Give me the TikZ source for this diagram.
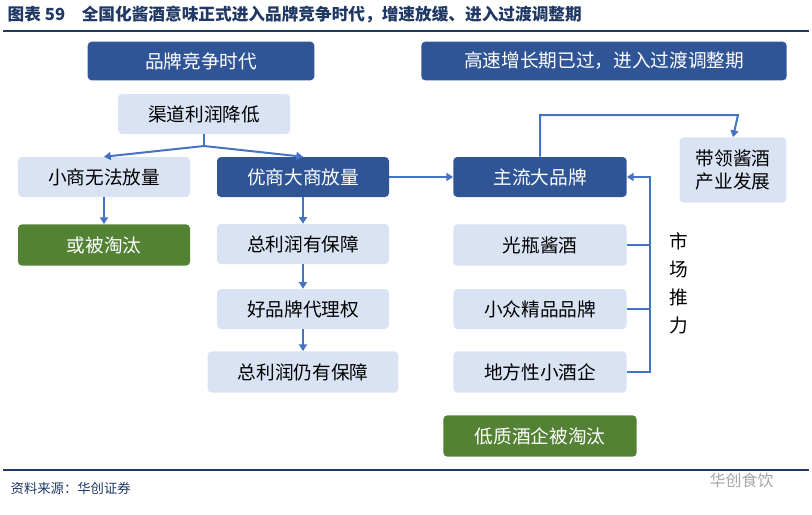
\documentclass[tikz,border=0pt]{standalone}
\usepackage{fontspec}
\setmainfont{Liberation Serif}
\newfontfamily\cjk{Noto Sans CJK SC}
\usetikzlibrary{positioning,arrows.meta}
\definecolor{dkblue}{HTML}{2F5597}
\definecolor{ltblue}{HTML}{DAE3F3}
\definecolor{arblue}{HTML}{4472C4}
\definecolor{okgreen}{HTML}{548235}
\definecolor{titleblue}{HTML}{1F3864}

\begin{document}
\begin{tikzpicture}[x=0.75pt, y=-0.75pt,
	box/.style={rounded corners=3pt, font=\cjk\fontsize{14}{17}\selectfont, inner sep=0pt},
	lt/.style={box, fill=ltblue, text=black},
	dk/.style={box, fill=dkblue, text=white},
	gr/.style={box, fill=okgreen, text=white},
	arr/.style={-{Triangle[length=5pt,width=6pt]}, arblue, line width=1.5pt}]
	\useasboundingbox (0,0) rectangle (812,514);

	% title and rules
	\node [anchor=west, text=titleblue, font=\cjk\bfseries\fontsize{12.5}{14}\selectfont] (title) at (3,15)
		{图表 59\quad 全国化酱酒意味正式进入品牌竞争时代，增速放缓、进入过渡调整期};
	\draw [titleblue, line width=1.5pt] (3,31) -- (809,31);
	\draw [titleblue, line width=1.5pt] (3,470) -- (809,470);
	\node [anchor=west, text=titleblue, font=\cjk\fontsize{10}{12}\selectfont] (src) at (6,488) {资料来源：华创证券};
	\node [anchor=west, text=gray!70, font=\cjk\fontsize{12}{14}\selectfont] (wm) at (705,480) {华创食饮};

	% boxes
	\node [dk, minimum width=170pt, minimum height=29pt] (era)   at (201,61)  {品牌竞争时代};
	\node [dk, minimum width=274pt, minimum height=29pt] (slow)  at (604,61)  {高速增长期已过，进入过渡调整期};
	\node [lt, minimum width=129pt, minimum height=30pt] (chan)  at (204,114) {渠道利润降低};
	\node [lt, minimum width=129pt, minimum height=30pt] (small) at (104,177) {小商无法放量};
	\node [dk, minimum width=129pt, minimum height=30pt] (big)   at (303,177) {优商大商放量};
	\node [gr, minimum width=129pt, minimum height=31pt] (out)   at (104,245) {或被淘汰};
	\node [lt, minimum width=129pt, minimum height=30pt] (prof)  at (303,244) {总利润有保障};
	\node [lt, minimum width=129pt, minimum height=30pt] (brand) at (303,309) {好品牌代理权};
	\node [lt, minimum width=143pt, minimum height=31pt] (still) at (303,372) {总利润仍有保障};
	\node [dk, minimum width=130pt, minimum height=30pt] (main)  at (540,177) {主流大品牌};
	\node [lt, minimum width=80pt, minimum height=49pt, align=center] (lead) at (733,170) {带领酱酒\\产业发展};
	\node [lt, minimum width=130pt, minimum height=31pt] (bottle) at (540,245) {光瓶酱酒};
	\node [lt, minimum width=130pt, minimum height=30pt] (niche)  at (540,309) {小众精品品牌};
	\node [lt, minimum width=130pt, minimum height=31pt] (local)  at (540,372) {地方性小酒企};
	\node [gr, minimum width=145pt, minimum height=31pt] (low)    at (540,436) {低质酒企被淘汰};
	\node [font=\cjk\fontsize{14}{21}\selectfont, align=center] (push) at (679,283) {市\\场\\推\\力};

	% connectors
	\coordinate (fork) at (204,146);
	\draw [arblue, line width=1.5pt] (chan) -- (fork);
	\draw [arr] (fork) -- (small.north);
	\draw [arr] (fork) -- (big.north);
	\draw [arr] (small) -- (out);
	\draw [arr] (big) -- (prof);
	\draw [arr] (prof) -- (brand);
	\draw [arr] (brand) -- (still);
	\draw [arr] (big) -- (main);
	\draw [arr] (main.north) |- (738,115) -- (lead.north);
	\coordinate (bar) at (650,372);
	\draw [arblue, line width=1.5pt] (bottle.east) -- (bottle.east -| bar);
	\draw [arblue, line width=1.5pt] (niche.east) -- (niche.east -| bar);
	\draw [arr] (local.east) -| (650,177) -- (main.east);
\end{tikzpicture}
\end{document}
